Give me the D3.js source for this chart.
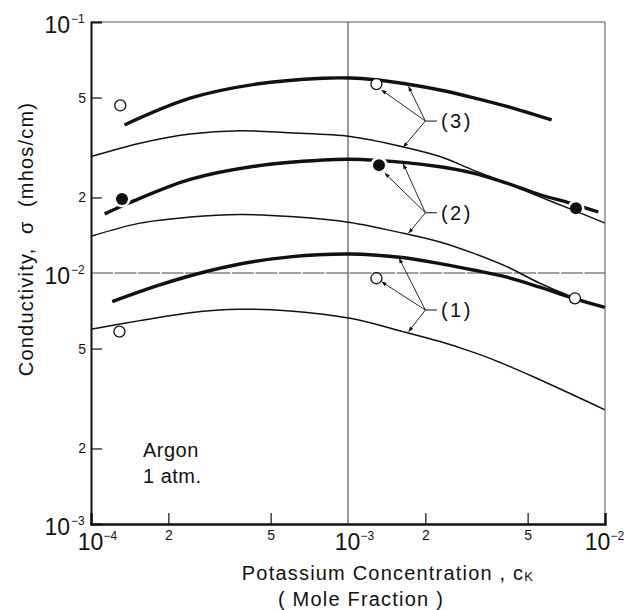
<!DOCTYPE html>
<html><head><meta charset="utf-8">
<script src="https://cdn.jsdelivr.net/npm/d3@7"></script>
<style>
body{margin:0;background:#fff;}
svg{display:block;font-family:"Liberation Sans",Arial,sans-serif;}
text{fill:#111;}
</style></head><body>
<svg id="chart" width="624" height="610"></svg>
<script>
// ---- Data ----
// Case (3)
const c3ThickX = [1.35e-4, 2.43e-4, 4.41e-4, 8.0e-4, 1.02e-3, 1.25e-3, 1.69e-3, 2.28e-3, 3.06e-3, 4.15e-3, 6.2e-3];
const c3ThickY = [0.0389, 0.0497, 0.0566, 0.0597, 0.0598, 0.0590, 0.0566, 0.0536, 0.0500, 0.0461, 0.0407];
const c3ThinX  = [1.0e-4, 1.55e-4, 2.43e-4, 3.8e-4, 5.95e-4, 1.02e-3, 1.64e-3, 2.28e-3, 3.07e-3, 4.15e-3, 5.58e-3, 7.53e-3, 1.0e-2];
const c3ThinY  = [0.0291, 0.0329, 0.0358, 0.0369, 0.0362, 0.0350, 0.0318, 0.0291, 0.0257, 0.0228, 0.0201, 0.0178, 0.0158];
// Case (2)
const c2ThickX = [1.13e-4, 1.42e-4, 2.43e-4, 4.41e-4, 8.0e-4, 1.02e-3, 1.64e-3, 2.28e-3, 3.07e-3, 4.15e-3, 5.58e-3, 7.31e-3, 9.42e-3];
const c2ThickY = [0.0172, 0.0191, 0.0236, 0.0267, 0.0282, 0.0284, 0.0276, 0.0265, 0.0250, 0.0228, 0.0205, 0.0190, 0.0175];
const c2ThinX  = [1.0e-4, 1.55e-4, 2.43e-4, 3.8e-4, 5.95e-4, 1.02e-3, 1.64e-3, 2.28e-3, 3.07e-3, 4.15e-3, 5.58e-3, 7.53e-3, 1.0e-2];
const c2ThinY  = [0.0140, 0.0158, 0.0167, 0.0171, 0.0168, 0.0159, 0.0144, 0.0133, 0.0120, 0.0106, 0.0091, 0.0080, 0.0073];
// Case (1)
const c1ThickX = [1.21e-4, 1.80e-4, 2.58e-4, 3.8e-4, 5.95e-4, 1.02e-3, 1.59e-3, 2.28e-3, 3.07e-3, 4.15e-3, 5.58e-3, 7.53e-3, 1.0e-2];
const c1ThickY = [0.00769, 0.00888, 0.00991, 0.01086, 0.0116, 0.0119, 0.01155, 0.0109, 0.01028, 0.00962, 0.00878, 0.00793, 0.0073];
const c1ThinX  = [1.0e-4, 1.55e-4, 2.43e-4, 3.8e-4, 5.95e-4, 1.02e-3, 1.64e-3, 2.28e-3, 2.9e-3, 3.57e-3, 5.26e-3, 1.0e-2];
const c1ThinY  = [0.00597, 0.00646, 0.00695, 0.00717, 0.00706, 0.0066, 0.00584, 0.00533, 0.00493, 0.00457, 0.00386, 0.00285];

// Measured points
const openX   = [1.30e-4, 1.29e-3, 1.29e-4, 1.29e-3, 7.64e-3];
const openY   = [0.0465, 0.0566, 0.00584, 0.00953, 0.00793];
const filledX = [1.32e-4, 1.32e-3, 7.71e-3];
const filledY = [0.0197, 0.0269, 0.0181];

// Annotation labels and arrows
const labelText = ["(3)", "(2)", "(1)"];
const labelY    = [0.0403, 0.01738, 0.00712];
const junctionX = 2.0e-3;
const stubEndX  = 2.22e-3;
const labelX    = 2.3e-3;
const arrowTX = [[1.35e-3, 1.72e-3, 1.64e-3], [1.39e-3, 1.64e-3, 1.72e-3], [1.35e-3, 1.58e-3, 1.72e-3]];
const arrowTY = [[0.0536, 0.0554, 0.0317], [0.0250, 0.0272, 0.0144], [0.00923, 0.01145, 0.00584]];

// Ticks
const xTicks = [1e-4, 2e-4, 5e-4, 1e-3, 2e-3, 5e-3, 1e-2];
const yTicks = [1e-3, 2e-3, 5e-3, 1e-2, 2e-2, 5e-2, 1e-1];

// ---- Drawing ----
const svg = d3.select("#chart");
const L = 91, R = 605, T = 22, B = 524;
const x = d3.scaleLog().domain([1e-4, 1e-2]).range([L, R]);
const y = d3.scaleLog().domain([1e-3, 1e-1]).range([B, T]);

const defs = svg.append("defs");
defs.append("marker").attr("id", "ah").attr("viewBox", "0 0 10 10")
  .attr("refX", 10).attr("refY", 5).attr("markerWidth", 8).attr("markerHeight", 5)
  .attr("markerUnits", "userSpaceOnUse").attr("orient", "auto")
  .append("path").attr("d", "M0,1 L10,5 L0,9 Z").attr("fill", "#111");

// grid lines
svg.append("line").attr("x1", x(1e-3)).attr("x2", x(1e-3)).attr("y1", y(1e-1)).attr("y2", y(1e-3))
  .attr("stroke", "#333").attr("stroke-width", 1);
svg.append("line").attr("x1", x(1e-4)).attr("x2", x(1e-2)).attr("y1", y(1e-2)).attr("y2", y(1e-2))
  .attr("stroke", "#444").attr("stroke-width", 1).attr("stroke-dasharray", "22,1.5");

const line = d3.line().x(d => x(d[0])).y(d => y(d[1])).curve(d3.curveCatmullRom.alpha(0.5));
const thick = [[c3ThickX, c3ThickY], [c2ThickX, c2ThickY], [c1ThickX, c1ThickY]];
const thin  = [[c3ThinX, c3ThinY], [c2ThinX, c2ThinY], [c1ThinX, c1ThinY]];

// thick curves (theory with correction)
svg.append("g").selectAll("path").data(thick).join("path")
  .attr("d", d => line(d3.zip(d[0], d[1])))
  .attr("fill", "none").attr("stroke", "#111").attr("stroke-width", 3.4);

// white gaps around filled points
svg.append("g").selectAll("circle").data(d3.zip(filledX, filledY)).join("circle")
  .attr("cx", d => x(d[0])).attr("cy", d => y(d[1])).attr("r", 8.5).attr("fill", "#fff");

// thin curves
svg.append("g").selectAll("path").data(thin).join("path")
  .attr("d", d => line(d3.zip(d[0], d[1])))
  .attr("fill", "none").attr("stroke", "#111").attr("stroke-width", 1.5);

// annotations
const ann = svg.append("g");
labelText.forEach((t, i) => {
  const jx = x(junctionX), jy = y(labelY[i]);
  arrowTX[i].forEach((tx, k) => {
    ann.append("line").attr("x1", jx).attr("y1", jy)
      .attr("x2", x(tx)).attr("y2", y(arrowTY[i][k]))
      .attr("stroke", "#111").attr("stroke-width", 0.9).attr("marker-end", "url(#ah)");
  });
  ann.append("line").attr("x1", jx).attr("x2", x(stubEndX)).attr("y1", jy).attr("y2", jy)
    .attr("stroke", "#111").attr("stroke-width", 1);
  ann.append("text").attr("x", x(labelX)).attr("y", jy).attr("dy", "0.36em")
    .attr("font-size", 20).attr("letter-spacing", 2.5).text(t);
});

// points
svg.append("g").selectAll("circle").data(d3.zip(openX, openY)).join("circle")
  .attr("cx", d => x(d[0])).attr("cy", d => y(d[1])).attr("r", 5.5)
  .attr("fill", "#fff").attr("stroke", "#111").attr("stroke-width", 1.3);
svg.append("g").selectAll("circle").data(d3.zip(filledX, filledY)).join("circle")
  .attr("cx", d => x(d[0])).attr("cy", d => y(d[1])).attr("r", 6).attr("fill", "#111");

// frame
svg.append("line").attr("x1", L).attr("x2", R).attr("y1", T).attr("y2", T).attr("stroke", "#555").attr("stroke-width", 1);
svg.append("line").attr("x1", R).attr("x2", R).attr("y1", T).attr("y2", B).attr("stroke", "#555").attr("stroke-width", 1);

const isDecade = d => Math.abs(Math.log10(d) - Math.round(Math.log10(d))) < 1e-6;
const fmt = d => isDecade(d) ? "10" : String(Math.round(d / Math.pow(10, Math.floor(Math.log10(d) + 1e-9))));
const expOf = d => "\u2212" + Math.abs(Math.round(Math.log10(d)));

// y axis
const gy = svg.append("g").attr("transform", `translate(${L},0)`)
  .call(d3.axisLeft(y).tickValues(yTicks).tickSize(-11).tickPadding(5).tickFormat(fmt));
gy.select(".domain").attr("stroke", "#111").attr("stroke-width", 2);
gy.selectAll(".tick line").attr("stroke", "#111").attr("stroke-width", 1.2);
gy.selectAll(".tick text").attr("font-size", 14).attr("font-family", "Liberation Sans, Arial, sans-serif").attr("fill", "#111");
gy.selectAll(".tick").filter(d => isDecade(d)).each(function(d) {
  const g = d3.select(this);
  g.select("line").remove();
  g.select("text").attr("font-size", 23).attr("x", -21).attr("dy", null).attr("y", 10);
  g.append("text").attr("x", -20).attr("y", 0).attr("text-anchor", "start")
    .attr("font-size", 12).attr("fill", "#111").attr("font-family", "Liberation Sans, Arial, sans-serif")
    .text(expOf(d));
});

// x axis
const gx = svg.append("g").attr("transform", `translate(0,${B})`)
  .call(d3.axisBottom(x).tickValues(xTicks).tickSize(-11).tickPadding(6).tickFormat(fmt));
gx.select(".domain").attr("stroke", "#111").attr("stroke-width", 2.4);
gx.selectAll(".tick line").attr("stroke", "#111").attr("stroke-width", 1.2);
gx.selectAll(".tick text").attr("font-size", 14).attr("font-family", "Liberation Sans, Arial, sans-serif").attr("fill", "#111");
gx.selectAll(".tick").filter(d => isDecade(d)).each(function(d, i) {
  const g = d3.select(this);
  const shift = d >= 1e-2 ? -7 : 0;   // keep the last label inside the page
  g.select("line").remove();
  g.select("text").attr("font-size", 23).attr("dy", null).attr("y", 26).attr("x", -1 + shift);
  g.append("text").attr("x", 12 + shift).attr("y", 16).attr("text-anchor", "start")
    .attr("font-size", 12).attr("fill", "#111").attr("font-family", "Liberation Sans, Arial, sans-serif")
    .text(expOf(d));
});

// in-plot note
svg.append("text").attr("x", 143).attr("y", 457).attr("font-size", 20).attr("letter-spacing", 0.5).text("Argon");
svg.append("text").attr("x", 143).attr("y", 483).attr("font-size", 20).attr("letter-spacing", 0.5).text("1 atm.");

// axis titles
const xt = svg.append("text").attr("x", 388).attr("y", 580).attr("text-anchor", "middle")
  .attr("font-size", 20).attr("letter-spacing", 1.2);
xt.append("tspan").text("Potassium Concentration , c");
xt.append("tspan").attr("font-size", 13).attr("dy", 1).text("K");
svg.append("text").attr("x", 361).attr("y", 606).attr("text-anchor", "middle")
  .attr("font-size", 20).attr("letter-spacing", 1.2).style("white-space", "pre").text("( Mole Fraction )");
svg.append("text").attr("transform", "translate(33,239) rotate(-90)").attr("text-anchor", "middle")
  .attr("font-size", 20).attr("letter-spacing", 1.2).style("white-space", "pre")
  .text("Conductivity,  \u03c3  (mhos/cm)");
</script>
</body></html>
